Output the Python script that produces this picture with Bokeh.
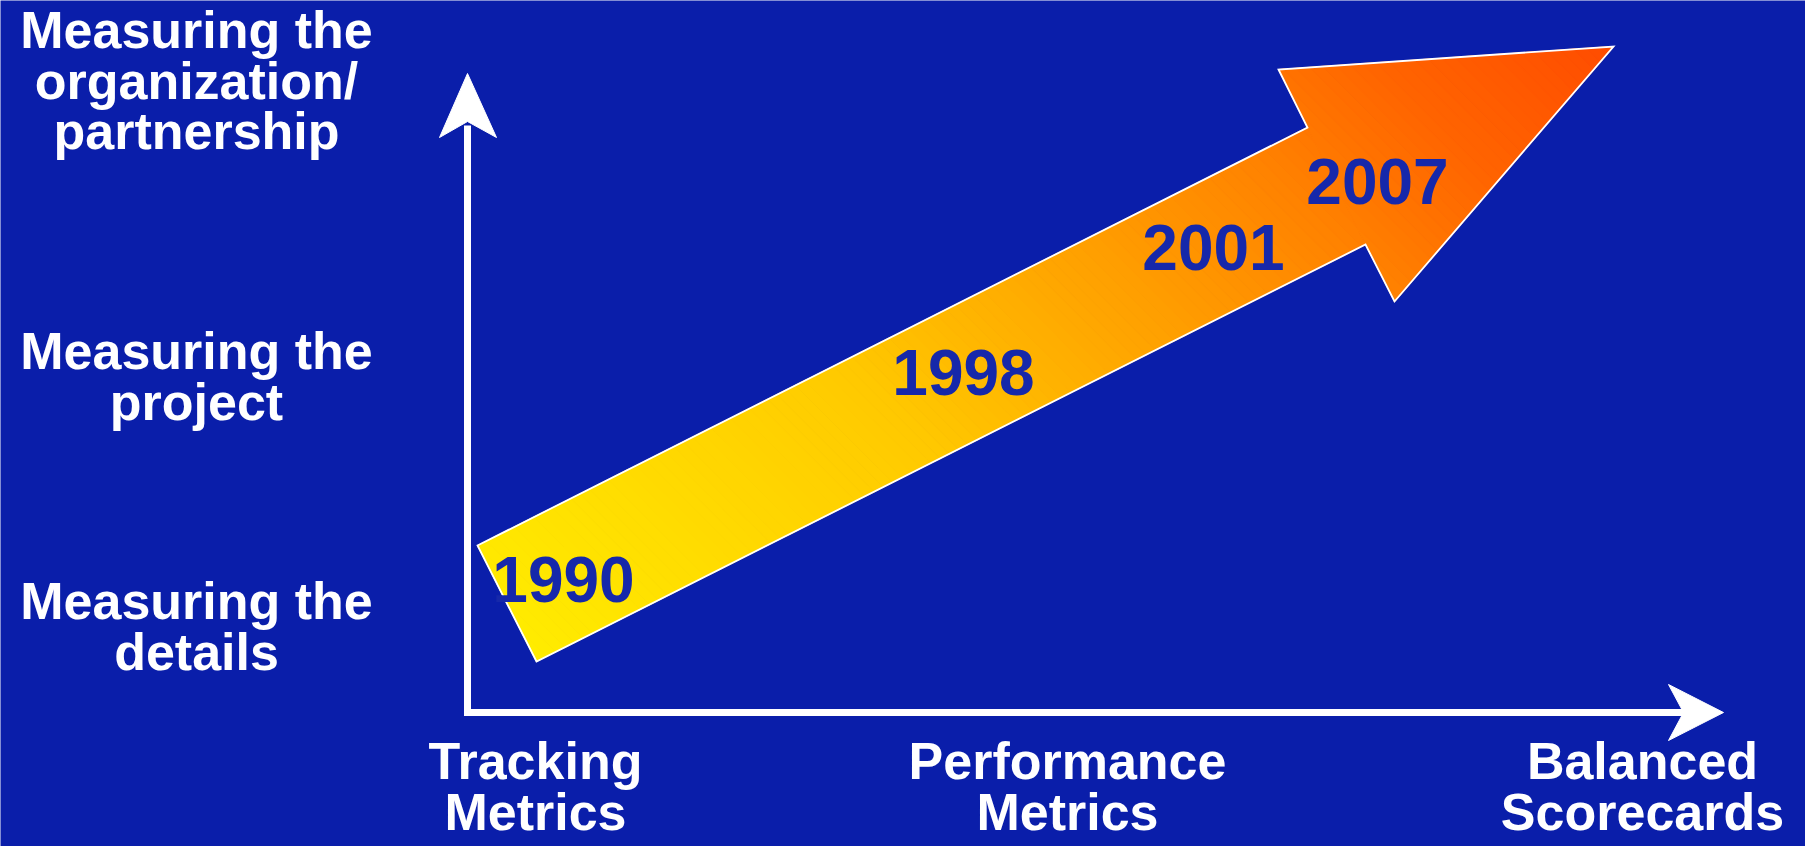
import numpy as np
from bokeh.plotting import figure
from bokeh.models import Range1d
from bokeh.embed import file_html
from bokeh.resources import INLINE
from bokeh.core.properties import value

# ---------------- data (diagram space, 1805 x 846, y downward) ----------------
y_levels = ["Measuring the\norganization/\npartnership",
            "Measuring the\nproject",
            "Measuring the\ndetails"]
y_level_x = [196, 196, 196]
y_level_baseline = [47, 368, 618]

x_levels = ["Tracking\nMetrics", "Performance\nMetrics", "Balanced\nScorecards"]
x_level_x = [535, 1067, 1642]
x_level_baseline = [778, 778, 778]

years = ["1990", "1998", "2001", "2007"]
year_x = [563, 963, 1213, 1377]
year_y = [600, 393, 268, 202]

# arrow outline: shaft top-left, upper notch, upper barb, tip, lower barb, lower notch, shaft bottom-left
arrow_x = [477, 1307, 1278, 1613, 1394, 1365, 536]
arrow_y = [545, 127, 69, 46, 301, 244, 661]

grad_stops = [0.0, 0.10, 0.35, 0.54, 0.735, 0.85, 1.0]
grad_colors = ["#FFEC00", "#FFE200", "#FFCA00", "#FFA500", "#FF8000", "#FF6400", "#FF4C00"]

yaxis_x = 467
yaxis_y = [712, 125]
yhead_x = [467, 496, 467, 439]
yhead_y = [73, 137, 121, 137]

xaxis_y = 712
xaxis_x = [463.5, 1690]
xhead_x = [1723, 1668, 1683, 1668]
xhead_y = [712, 740, 712, 684]

BG = "#0A1EAA"
YEAR_COLOR = "#1628AA"
W, H = 1805, 846
LINE_STEP = 50.5
BASELINE_FIX = 0.33  # renderer places alphabetic baseline ~1/3 em low

# ---------------- figure ----------------
p = figure(width=W, height=H, output_backend="svg", toolbar_location=None,
           x_range=Range1d(0, W), y_range=Range1d(H, 0),
           x_axis_location=None, y_axis_location=None,
           min_border=0, background_fill_color=BG, border_fill_color=BG,
           outline_line_color=None)
p.grid.visible = False


# ---------------- gradient-filled arrow ----------------
def hex2rgb(h):
    h = h.lstrip("#")
    return np.array([int(h[i:i + 2], 16) for i in (0, 2, 4)], dtype=float)


stop_rgb = np.array([hex2rgb(c) for c in grad_colors])


def color_at(t):
    r = np.interp(t, grad_stops, stop_rgb[:, 0])
    g = np.interp(t, grad_stops, stop_rgb[:, 1])
    b = np.interp(t, grad_stops, stop_rgb[:, 2])
    return "#%02x%02x%02x" % (int(round(r)), int(round(g)), int(round(b)))


ax = np.array(arrow_x, float)
ay = np.array(arrow_y, float)
raw = (ax - ax.min()) + (ay.max() - ay)
tmin, tmax = raw.min(), raw.max()


def tval(x, y):
    return ((x - ax.min()) + (ay.max() - y) - tmin) / (tmax - tmin)


def clip(poly, keep_ge, level):
    out = []
    n = len(poly)
    for i in range(n):
        cur = poly[i]
        prev = poly[i - 1]
        tc = tval(*cur) - level
        tp = tval(*prev) - level
        if not keep_ge:
            tc, tp = -tc, -tp
        cin, pin = tc >= 0, tp >= 0
        if cin:
            if not pin:
                s = tp / (tp - tc)
                out.append((prev[0] + s * (cur[0] - prev[0]), prev[1] + s * (cur[1] - prev[1])))
            out.append(cur)
        elif pin:
            s = tp / (tp - tc)
            out.append((prev[0] + s * (cur[0] - prev[0]), prev[1] + s * (cur[1] - prev[1])))
    return out


verts = list(zip(ax, ay))
# convex parts: shaft and head
parts = [[verts[i] for i in (0, 1, 5, 6)],
         [verts[i] for i in (1, 2, 3, 4, 5)]]

nb = 120
edges = np.linspace(0, 1, nb + 1)
xs, ys, cols = [], [], []
for part in parts:
    for k in range(nb):
        a, b = edges[k], edges[k + 1]
        piece = clip(part, True, a)
        if piece:
            piece = clip(piece, False, b)
        if len(piece) >= 3:
            xs.append([q[0] for q in piece])
            ys.append([q[1] for q in piece])
            cols.append(color_at((a + b) / 2))

p.patches(xs, ys, fill_color=cols, line_color=cols, line_width=1.2)
p.patch(arrow_x, arrow_y, fill_color=None, line_color="white", line_width=1.8,
        line_join="miter")

# ---------------- axes with arrow heads ----------------
p.line([yaxis_x, yaxis_x], yaxis_y, line_color="white", line_width=7, line_cap="butt")
p.line(xaxis_x, [xaxis_y, xaxis_y], line_color="white", line_width=7, line_cap="butt")
p.patch(yhead_x, yhead_y, fill_color="white", line_color="white", line_width=1)
p.patch(xhead_x, xhead_y, fill_color="white", line_color="white", line_width=1)

# ---------------- texts ----------------
font = value("Liberation Sans")


def multiline(labels, xs_, base_, size):
    tx, ty, tt = [], [], []
    for lab, x0, b0 in zip(labels, xs_, base_):
        for i, line in enumerate(lab.split("\n")):
            tx.append(x0)
            ty.append(b0 + i * LINE_STEP - BASELINE_FIX * size)
            tt.append(line)
    p.text(tx, ty, text=tt, text_font=font, text_font_style="bold",
           text_font_size="%dpx" % size, text_color="white", text_align="center",
           text_baseline="alphabetic")


multiline(y_levels, y_level_x, y_level_baseline, 52)
multiline(x_levels, x_level_x, x_level_baseline, 52)

p.text(year_x, [v - BASELINE_FIX * 64 for v in year_y], text=years, text_font=font,
       text_font_style="bold", text_font_size="64px", text_color=YEAR_COLOR,
       text_align="center", text_baseline="alphabetic")

open("out.html", "w").write(file_html(p, INLINE))
